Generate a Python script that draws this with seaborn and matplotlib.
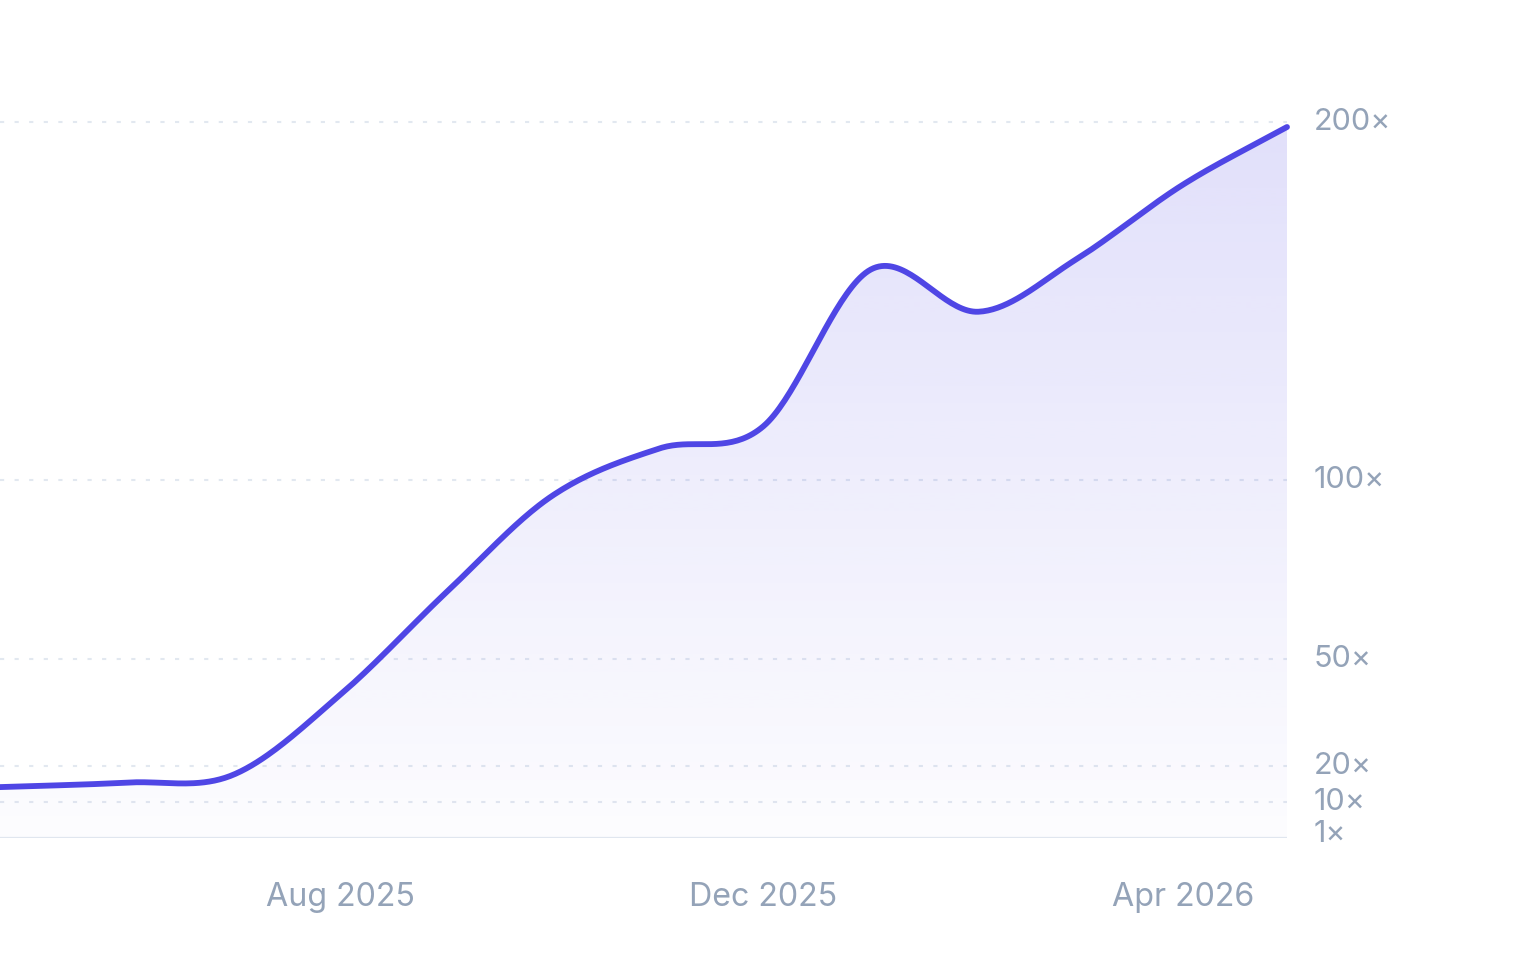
"""Growth multiple over time: smooth indigo line with a soft gradient fill."""
import numpy as np
import pandas as pd
import matplotlib
matplotlib.use('Agg')
import matplotlib.pyplot as plt
import matplotlib.dates as mdates
from matplotlib.transforms import ScaledTranslation
import seaborn as sns

sns.set_theme(style="white")
plt.rcParams['font.family'] = ['Inter', 'DejaVu Sans']

# --- Data (monthly growth multiple) ---
months = ['2025-04-01', '2025-05-01', '2025-06-01', '2025-07-01', '2025-08-01',
          '2025-09-01', '2025-10-01', '2025-11-01', '2025-12-01', '2026-01-01',
          '2026-02-01', '2026-03-01', '2026-04-01', '2026-05-01']
multiple = [13.6, 14.4, 15.5, 17.6, 40.0, 69.0, 95.5, 108.8, 115.0, 158.8,
            147.0, 161.5, 182.5, 198.6]

tick_dates = ['2025-08-01', '2025-12-01', '2026-04-01']
tick_labels = ['Aug 2025', 'Dec 2025', 'Apr 2026']
y_ticks = [1, 10, 20, 50, 100, 200]
y_labels = ['1×', '10×', '20×', '50×', '100×', '200×']
grid_levels = [10, 20, 50, 100, 200]

LINE = '#4f46e5'
MUTED = '#94a3b8'
GRID = '#e2e8f0'

df = pd.DataFrame({'date': pd.to_datetime(months), 'multiple': multiple})
xs = mdates.date2num(df['date'])
ys = np.asarray(multiple, dtype=float)


def catmull_rom(x, y, n=40):
    """Cardinal (Catmull-Rom) curve through the points, for drawing only."""
    h = np.diff(x)
    m = np.zeros_like(y)
    m[1:-1] = (y[2:] - y[:-2]) / (x[2:] - x[:-2])
    m[0] = (y[1] - y[0]) / h[0]
    m[-1] = (y[-1] - y[-2]) / h[-1]
    cx, cy = [], []
    for i in range(len(x) - 1):
        t = np.linspace(0, 1, n, endpoint=(i == len(x) - 2))
        h00 = 2 * t**3 - 3 * t**2 + 1
        h10 = t**3 - 2 * t**2 + t
        h01 = -2 * t**3 + 3 * t**2
        h11 = t**3 - t**2
        cx.append(x[i] + t * h[i])
        cy.append(h00 * y[i] + h10 * h[i] * m[i] + h01 * y[i + 1] + h11 * h[i] * m[i + 1])
    return np.concatenate(cx), np.concatenate(cy)


sx, sy = catmull_rom(xs, ys)
curve = pd.DataFrame({'x': sx, 'y': sy})

fig = plt.figure(figsize=(15.28, 9.80), dpi=100)
ax = fig.add_axes([0.0, 142 / 980, 1287 / 1528, 823.4 / 980])

x_left = mdates.date2num(pd.Timestamp('2025-08-01')) - 98.1
x_right = mdates.date2num(pd.Timestamp('2026-05-01'))

# gridlines
for lvl in grid_levels:
    ax.axhline(lvl, color=GRID, lw=1.5, ls=(0, (2, 5)), zorder=1)
ax.axhline(0, color=GRID, lw=1.6, zorder=1)

# gradient fill under the curve
poly = ax.fill_between(curve['x'], curve['y'], 0, color='none', lw=0)
grad = np.linspace(0.17, 0.015, 256).reshape(-1, 1)
rgba = np.zeros((256, 1, 4))
rgba[..., :3] = matplotlib.colors.to_rgb(LINE)
rgba[..., 3] = grad
img = ax.imshow(rgba, aspect='auto', extent=[x_left, x_right, 0, max(multiple)],
                origin='upper', zorder=2, interpolation='bilinear')
img.set_clip_path(poly.get_paths()[0], transform=ax.transData)
ax.set_xlim(x_left, x_right)
ax.set_ylim(0, 230)

sns.lineplot(data=curve, x='x', y='y', ax=ax, color=LINE, lw=4.2,
             solid_capstyle='round', zorder=3, sort=False, clip_on=False)

ax.set_xticks(mdates.date2num(pd.to_datetime(tick_dates)))
ax.set_xticklabels(tick_labels)
ax.yaxis.tick_right()
ax.set_yticks(y_ticks)
ax.set_yticklabels(y_labels)
ax.tick_params(axis='x', length=0, pad=32, labelsize=23.2, labelcolor=MUTED)
ax.tick_params(axis='y', length=0, pad=19, labelsize=22, labelcolor=MUTED)
shift = ScaledTranslation(0, 3 / 100, fig.dpi_scale_trans)
for lab in ax.get_yticklabels():
    lab.set_horizontalalignment('left')
    lab.set_transform(lab.get_transform() + shift)
ax.set_xlabel('')
ax.set_ylabel('')
for sp in ax.spines.values():
    sp.set_visible(False)
ax.patch.set_alpha(0)

fig.savefig('out.png', dpi=100)
plt.close()
